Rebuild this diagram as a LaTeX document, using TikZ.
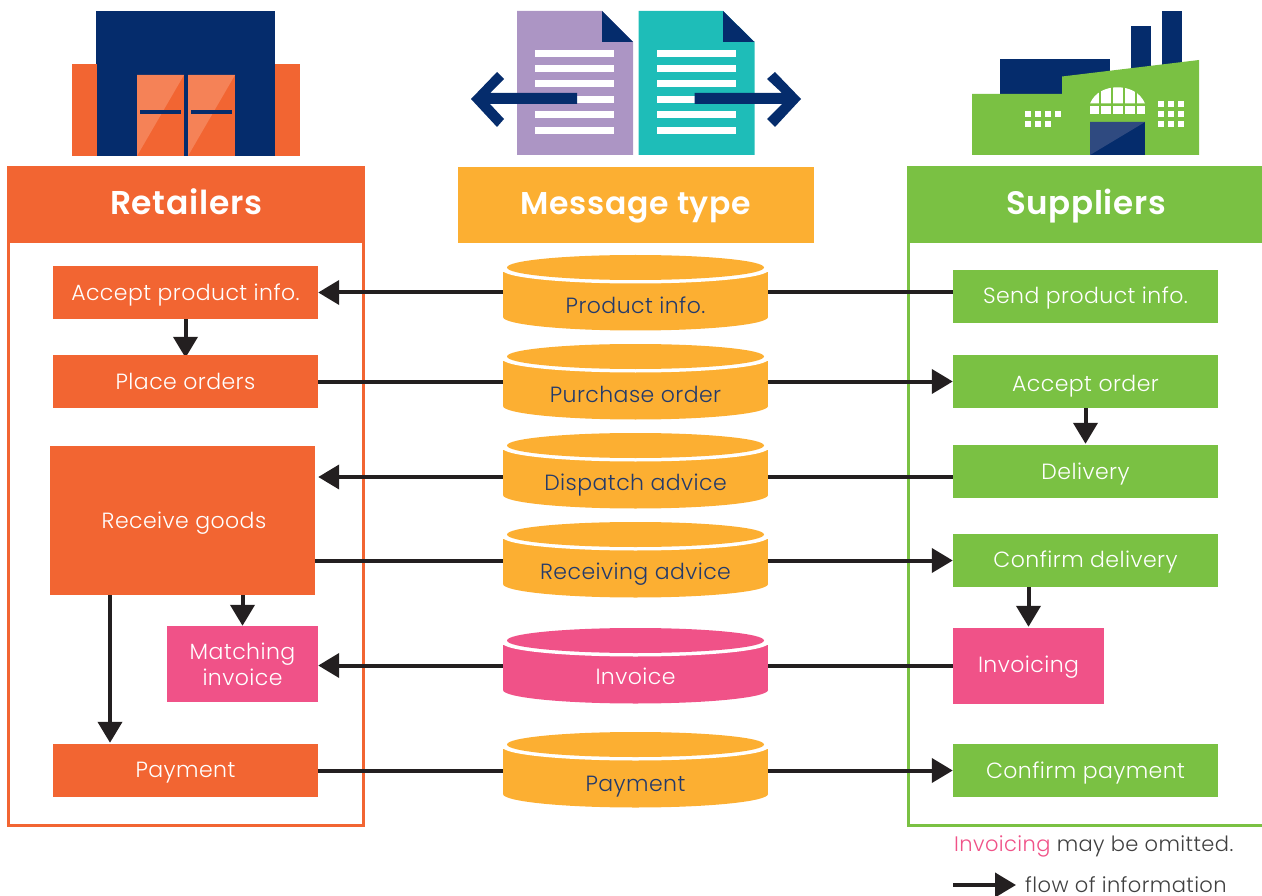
\documentclass[tikz,border=0pt]{standalone}
\usepackage{fontspec}
\setmainfont{Poppins}[UprightFont=* Light, BoldFont=* SemiBold, LetterSpace=2]
\usetikzlibrary{arrows.meta,backgrounds}
\definecolor{retorange}{HTML}{F26532}
\definecolor{orangelight}{HTML}{F58257}
\definecolor{msgyellow}{HTML}{FCAF32}
\definecolor{supgreen}{HTML}{7AC143}
\definecolor{invpink}{HTML}{F05288}
\definecolor{docpurple}{HTML}{AC95C4}
\definecolor{docteal}{HTML}{1EBDB8}
\definecolor{iconnavy}{HTML}{052C6C}
\definecolor{navylight}{HTML}{2F4A80}
\definecolor{flowblack}{HTML}{231F20}
\definecolor{disktext}{HTML}{233A6B}
\definecolor{notegrey}{HTML}{404040}
\tikzset{
    stepbox/.style={inner sep=0pt, minimum width=265pt, minimum height=53pt, text=white,
        font=\fontsize{22}{26}\selectfont, text height=19pt, text depth=4pt},
    smallbox/.style={stepbox, minimum width=151pt, minimum height=76pt},
    headbox/.style={inner sep=0pt, minimum height=77pt, text=white, text height=28pt, text depth=8pt},
    disk/.style={inner sep=0pt, minimum width=265pt, minimum height=75pt},
    disklabel/.style={inner sep=0pt, font=\fontsize{22}{26}\selectfont, text height=19pt, text depth=4pt},
    flow/.style={draw=flowblack, line width=4pt, -{Triangle[length=21pt,width=24pt]}},
    flowline/.style={draw=flowblack, line width=4pt}
}
\begin{document}
\begin{tikzpicture}[x=1pt, y=-1pt]
    \useasboundingbox (0,0) rectangle (1262,896);

    % store
    \fill[iconnavy] (96,11) rectangle (275,156);
    \fill[retorange] (72,64) rectangle (97,156);
    \fill[retorange] (275,64) rectangle (300,156);
    \foreach \dx in {137,188} {
        \fill[retorange] (\dx,75) rectangle ++(47,81);
        \fill[orangelight] (\dx,75) -- ++(47,0) -- ++(-47,81) -- cycle;
        \fill[iconnavy] (\dx+3,110) rectangle ++(41,4);
    }

    % documents
    \fill[docpurple] (517,11) -- (602,11) -- (633,42) -- (633,155) -- (517,155) -- cycle;
    \fill[docteal] (638.5,11) -- (723,11) -- (754.5,42) -- (754.5,155) -- (638.5,155) -- cycle;
    \fill[iconnavy] (602,11) -- (602,42) -- (633,42) -- cycle;
    \fill[iconnavy] (723,11) -- (723,42) -- (754.5,42) -- cycle;
    \foreach \ly in {50,65,80,96,111,127} {
        \fill[white] (535,\ly) rectangle ++(79,7);
        \fill[white] (657,\ly) rectangle ++(79,7);
    }
    \fill[iconnavy] (577,93) -- (490,93) -- (504,79) -- (497,72) -- (471,99) -- (497,127) -- (504,119) -- (490,104) -- (577,104) -- cycle;
    \fill[iconnavy] (694.5,93) -- (782,93) -- (767,79) -- (775,72) -- (801,99) -- (775,127) -- (767,119) -- (782,104) -- (694.5,104) -- cycle;

    % factory
    \fill[iconnavy] (999.5,59) rectangle (1110,100);
    \fill[iconnavy] (1131,26) rectangle (1151,75);
    \fill[iconnavy] (1162,11) rectangle (1182,70);
    \fill[supgreen] (972,94) -- (1062,94) -- (1062,76.5) -- (1199,60) -- (1199,155) -- (972,155) -- cycle;
    \fill[white] (1090,103.5) .. controls (1095,92) and (1106,87.3) .. (1117.5,87.3) .. controls (1129,87.3) and (1140,92) .. (1145,103.5) -- cycle;
    \fill[white] (1090,106) rectangle (1145,114.5);
    \foreach \wx in {1099.5,1111.5,1124,1136} {
        \fill[supgreen] (\wx-1,85) rectangle ++(2.4,31);
    }
    \fill[iconnavy] (1090,122) rectangle (1145,155);
    \fill[navylight] (1090,122) -- (1145,122) -- (1090,155) -- cycle;
    \foreach \wx/\wy in {1025/111,1035/111,1045/111,1055/111,1025/121,1035/121,1045/121,
                         1158/101,1168/101,1178/101,1158/111,1168/111,1178/111,1158/121,1168/121,1178/121} {
        \fill[white] (\wx,\wy) rectangle ++(6,6);
    }

    % columns
    \draw[retorange, line width=3pt] (8.5,243) -- (8.5,825.5) -- (363.5,825.5) -- (363.5,243);
    \draw[supgreen, line width=3pt] (908.5,243) -- (908.5,825) -- (1262,825);
    \node[headbox, fill=retorange, minimum width=358pt, font=\fontsize{33}{38}\selectfont\bfseries] (Ret) at (186,204.5) {Retailers};
    \node[headbox, fill=msgyellow, minimum width=356pt, minimum height=76pt, font=\fontsize{31.5}{38}\selectfont\bfseries] (Msg) at (636,205) {Message type};
    \node[headbox, fill=supgreen, minimum width=355pt, font=\fontsize{32.5}{38}\selectfont\bfseries] (Sup) at (1084.5,204.5) {\hspace*{3pt}Suppliers};

    % retailers
    \begin{scope}[every node/.style={stepbox, fill=retorange}]
        \node (RAcc) at (185.5,292.5) {\raisebox{-0.5pt}{Accept product info.}};
        \node (RPlace) at (185.5,381.5) {Place orders};
        \node (RGoods) [minimum height=149pt] at (182.5,520.5) {\hspace*{3pt}Receive goods};
        \node (RPay) at (185.5,770.5) {\raisebox{1pt}{Payment}};
    \end{scope}
    \node (RMatch) [smallbox, fill=invpink, align=center, text height=, text depth=] at (242.5,664) {Matching\\invoice};

    % suppliers
    \begin{scope}[every node/.style={stepbox, fill=supgreen}]
        \node (SSend) at (1085.5,296.5) {Send product info.};
        \node (SOrder) at (1085.5,381.5) {\raisebox{-2.5pt}{Accept order}};
        \node (SDeliv) at (1085.5,471.5) {Delivery};
        \node (SConf) at (1085.5,560.5) {\raisebox{1pt}{Confirm delivery}};
        \node (SPay) at (1085.5,770.5) {Confirm payment};
    \end{scope}
    \node (SInv) [smallbox, fill=invpink] at (1028.5,666) {\raisebox{1.5pt}{Invoicing}};

    % message types
    \foreach \nm/\yy/\col/\tcol/\dy/\txt in {MProd/292.5/msgyellow/disktext/13.8/{Product info.},
                                             MOrder/381.5/msgyellow/disktext/13.8/{Purchase order},
                                             MDisp/470.5/msgyellow/disktext/12.5/{Dispatch advice},
                                             MRecv/559.5/msgyellow/disktext/12.5/{Receiving advice},
                                             MInv/665.5/invpink/white/11.5/{Invoice},
                                             MPay/769.5/msgyellow/disktext/14.5/{Payment}} {
        \node[disk] (\nm) at (635.5,\yy) {};
        \begin{scope}[shift={(635.5,\yy)}]
            \fill[\col] (-132.5,-20.5) rectangle (132.5,24.5);
            \fill[\col] (0,24.5) ellipse [x radius=132.5pt, y radius=13.5pt];
            \fill[white] (0,-22.5) ellipse [x radius=133pt, y radius=13.5pt];
            \fill[\col] (0,-25) ellipse [x radius=128.5pt, y radius=12.5pt];
        \end{scope}
        \node[disklabel, text=\tcol] (\nm T) at ([yshift=-\dy pt]\nm.center) {\txt};
    }

    % information flow
    \coordinate (DispLine) at ([yshift=-6.5pt]MDisp.center);
    \draw[flowline] (SSend.west |- MProd.east) -- (MProd.east);
    \draw[flow] (MProd.west) -- (RAcc.east);
    \draw[flowline] (RPlace.east) -- (MOrder.west |- RPlace.east);
    \draw[flow] (MOrder.east |- RPlace.east) -- (SOrder.west);
    \draw[flowline] (SDeliv.west |- DispLine) -- (MDisp.east |- DispLine);
    \draw[flow, shorten >=3pt] (MDisp.west |- DispLine) -- (RGoods.east |- DispLine);
    \draw[flowline] (RGoods.east |- SConf.west) -- (MRecv.west |- SConf.west);
    \draw[flow] (MRecv.east |- SConf.west) -- (SConf.west);
    \draw[flowline] (SInv.west |- MInv.east) -- (MInv.east);
    \draw[flow] (MInv.west) -- (RMatch.east |- MInv.west);
    \draw[flowline] (RPay.east) -- (MPay.west |- RPay.east);
    \draw[flow] (MPay.east |- RPay.east) -- (SPay.west);

    \begin{scope}[on background layer]
        \draw[flow, shorten >=-3pt] (RAcc.south) -- (RPlace.north);
    \end{scope}
    \draw[flow, shorten >=1pt] (SOrder.south) -- (SDeliv.north);
    \draw[flow] (RMatch.north |- RGoods.south) -- (RMatch.north);
    \draw[flow, shorten >=1pt] ([xshift=-72.5pt]RGoods.south) -- ([xshift=-72.5pt]RGoods.south |- RPay.north);
    \draw[flow, shorten >=1pt] (SInv.north |- SConf.south) -- (SInv.north);

    % notes
    \node (NoteOmit) [anchor=base west, inner sep=0pt, font=\fontsize{21}{26}\selectfont, text=notegrey] at (954,851) {\textcolor{invpink}{Invoicing} may be omitted.};
    \coordinate (FlowStart) at (953,885);
    \node (NoteFlow) [anchor=west, inner sep=0pt, font=\fontsize{21}{26}\selectfont, text=notegrey] at (1025,885) {flow of information};
    \draw[flow, shorten >=9pt] (FlowStart) -- (NoteFlow.west);
\end{tikzpicture}
\end{document}
